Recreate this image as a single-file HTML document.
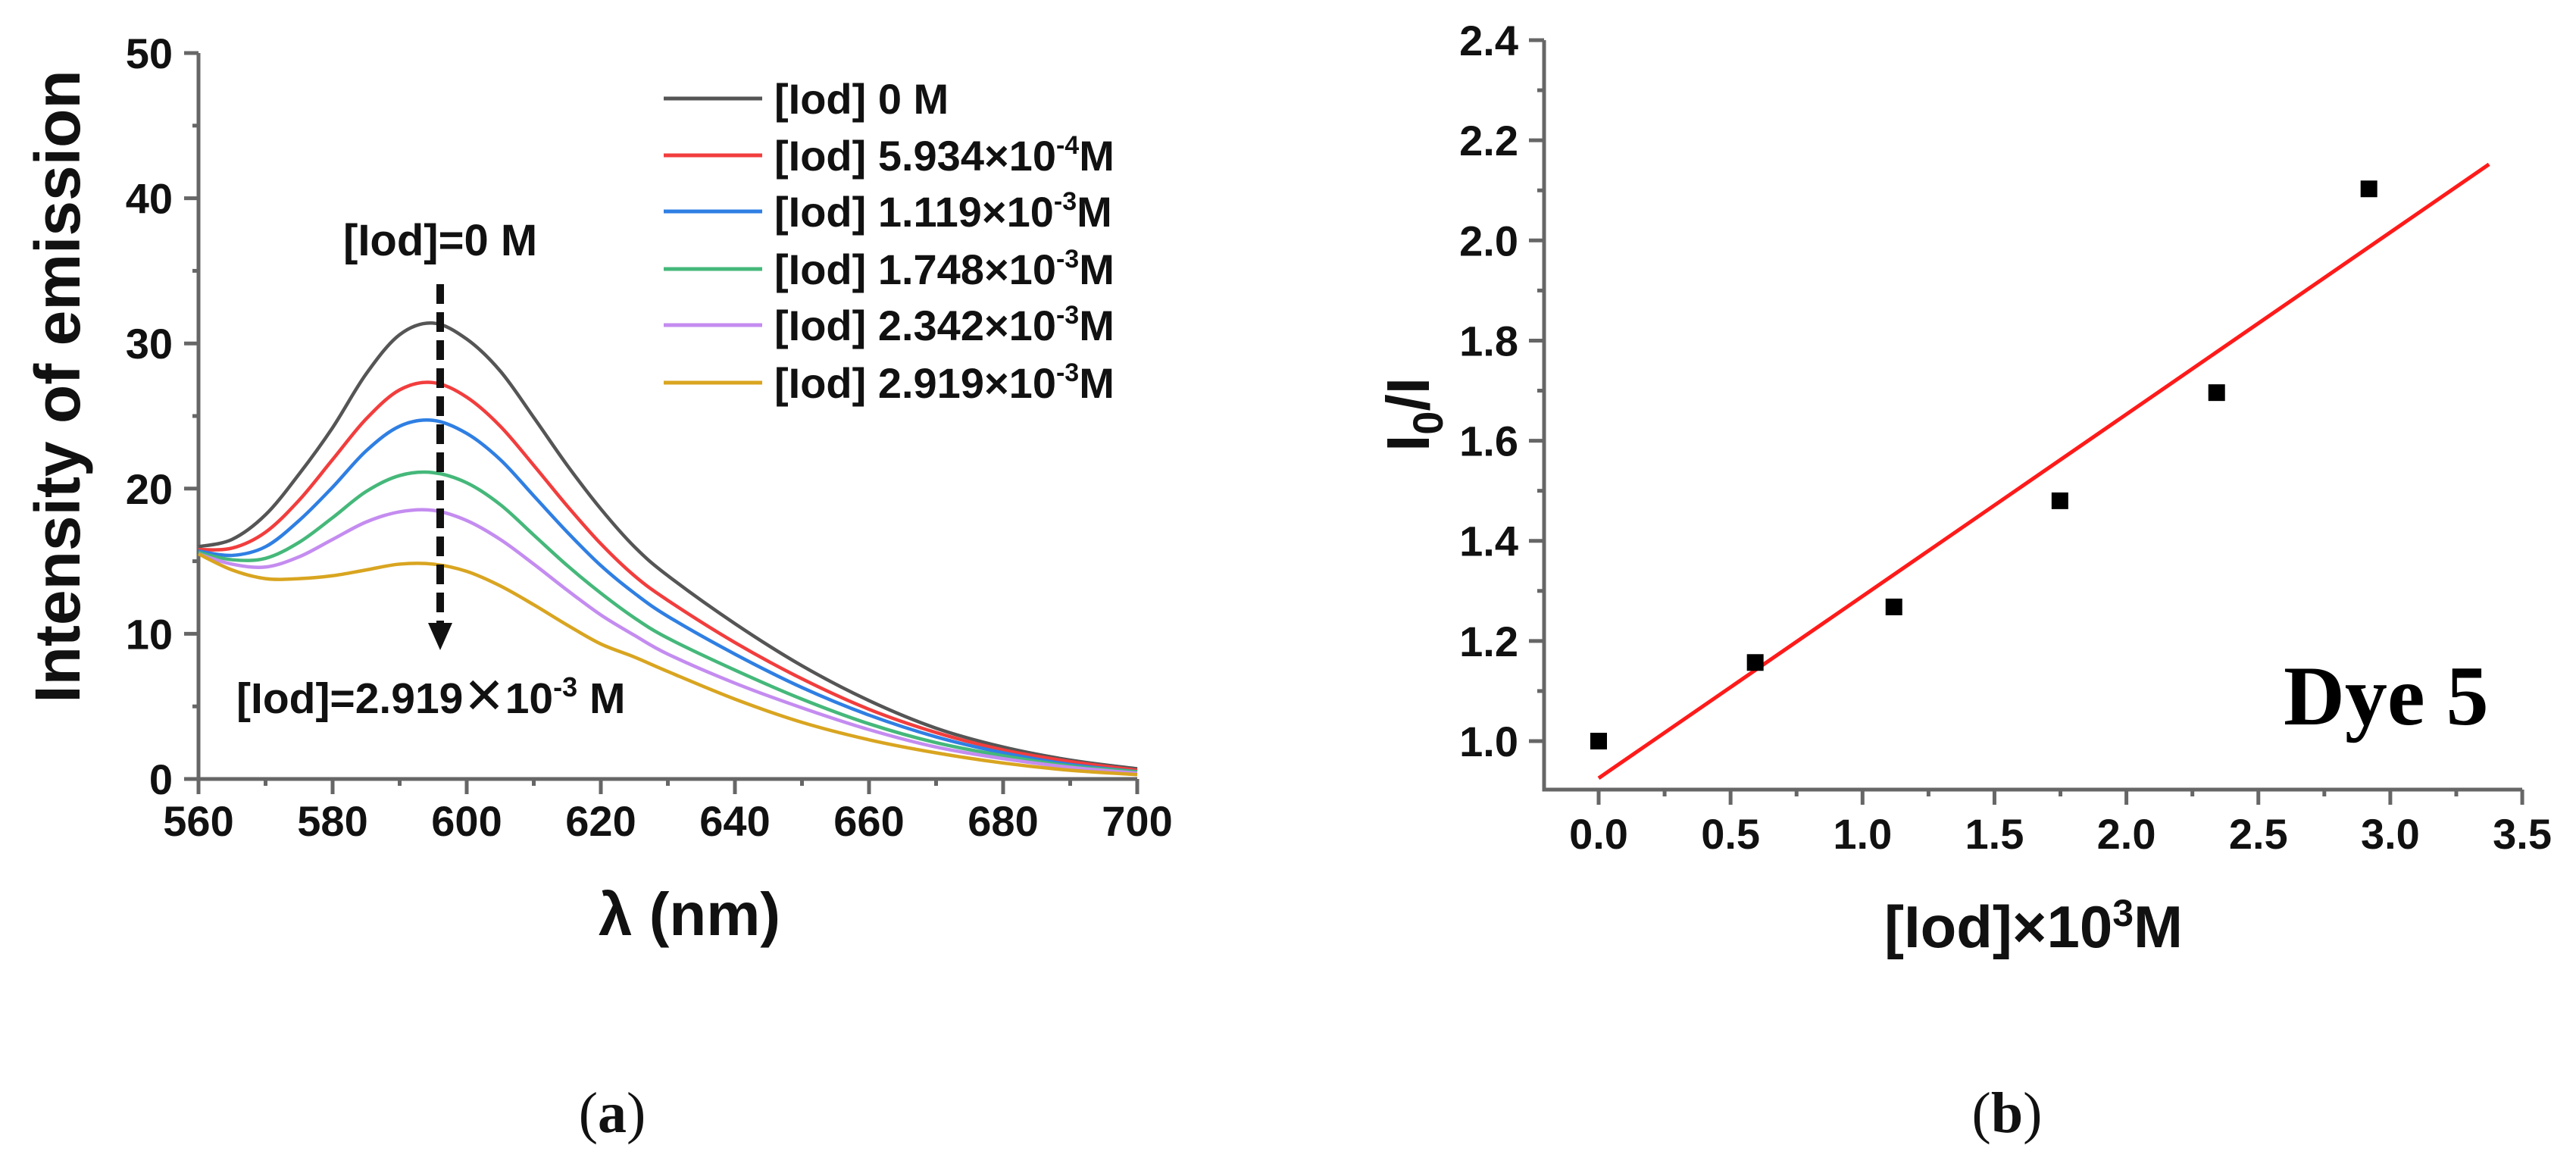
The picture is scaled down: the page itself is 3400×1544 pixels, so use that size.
<!DOCTYPE html>
<html><head><meta charset="utf-8"><style>
html,body{margin:0;padding:0;background:#fff;}
svg{display:block;}
text{font-family:"Liberation Sans",Arial,sans-serif;}
.tk{font-size:56px;font-weight:bold;fill:#111;}
.lg{font-size:56px;font-weight:bold;fill:#111;}
</style></head><body>
<svg id="fig" width="3400" height="1544" viewBox="0 0 3400 1544" xmlns="http://www.w3.org/2000/svg">
<g id="panelA"></g>
<g id="panelB"></g>
<text x="0" y="0" transform="translate(105,510) rotate(-90)" text-anchor="middle" style="font-size:84px;font-weight:bold;fill:#111">Intensity of emission</text>
<text x="910" y="1234" text-anchor="middle" style="font-size:80px;font-weight:bold;fill:#111">λ (nm)</text>
<text x="453" y="337" style="font-size:58px;font-weight:bold;fill:#111">[Iod]=0 M</text>
<text x="312" y="941" style="font-size:57px;font-weight:bold;fill:#111">[Iod]=2.919<tspan style="font-weight:normal;font-size:66px">✕</tspan>10<tspan dy="-22" style="font-size:36px">-3</tspan><tspan dy="22"> M</tspan></text>
<text x="808" y="1494" text-anchor="middle" style="font-family:'Liberation Serif',serif;font-size:76px;fill:#111">(<tspan font-weight="bold">a</tspan>)</text>
<text x="0" y="0" transform="translate(1886,547) rotate(-90)" text-anchor="middle" style="font-size:80px;font-weight:bold;fill:#111">I<tspan dy="18" style="font-size:56px">0</tspan><tspan dy="-18">/I</tspan></text>
<text x="2684" y="1250" text-anchor="middle" style="font-size:78px;font-weight:bold;fill:#111">[Iod]×10<tspan dy="-28" style="font-size:50px">3</tspan><tspan dy="28">M</tspan></text>
<text x="3014" y="956" style="font-family:'Liberation Serif',serif;font-size:112px;font-weight:bold;fill:#000">Dye 5</text>
<text x="2649" y="1494" text-anchor="middle" style="font-family:'Liberation Serif',serif;font-size:76px;fill:#111">(<tspan font-weight="bold">b</tspan>)</text>
</svg>
<script>
// ---------- Panel A data ----------
const wavelengths = [560,565,570,575,580,585,590,595,600,605,610,615,620,625,630,640,650,660,670,680,690,700];
const seriesBlack  = [16.0,16.5,18.2,21.0,24.2,27.9,30.6,31.4,30.3,28.1,24.9,21.6,18.6,16.0,14.0,10.7,7.8,5.4,3.5,2.2,1.3,0.7];
const seriesRed    = [15.8,15.9,17.0,19.2,22.0,24.8,26.8,27.3,26.3,24.3,21.6,18.8,16.2,14.0,12.3,9.4,6.9,4.8,3.2,2.0,1.2,0.6];
const seriesBlue   = [15.7,15.4,16.0,17.8,20.1,22.6,24.3,24.7,23.8,22.0,19.5,17.0,14.7,12.8,11.2,8.6,6.3,4.4,2.9,1.8,1.0,0.5];
const seriesGreen  = [15.6,15.1,15.2,16.3,18.0,19.8,20.9,21.1,20.4,18.9,16.8,14.7,12.8,11.1,9.7,7.5,5.5,3.8,2.5,1.6,0.9,0.5];
const seriesPurple = [15.5,14.8,14.6,15.3,16.5,17.7,18.4,18.5,17.8,16.5,14.8,13.0,11.3,9.9,8.6,6.6,4.9,3.4,2.2,1.4,0.8,0.4];
const seriesOrange = [15.5,14.4,13.8,13.8,14.0,14.4,14.8,14.8,14.3,13.3,12.0,10.6,9.3,8.4,7.4,5.5,3.9,2.7,1.8,1.1,0.6,0.3];
const legendLabels = ["0 M","5.934×10|-4","1.119×10|-3","1.748×10|-3","2.342×10|-3","2.919×10|-3"];
const xTicksA = [560,580,600,620,640,660,680,700];
const yTicksA = [0,10,20,30,40,50];
// ---------- Panel B data ----------
const concB = [0, 0.5934, 1.119, 1.748, 2.342, 2.919];
const ratioB = [1.0, 1.157, 1.268, 1.48, 1.696, 2.103];
const fitSlope = 0.3634;
const fitIntercept = 0.926;
const fitRange = [0, 3.374];
const xTicksB = [0,0.5,1.0,1.5,2.0,2.5,3.0,3.5];
const yTicksB = [1.0,1.2,1.4,1.6,1.8,2.0,2.2,2.4];

const NS = "http://www.w3.org/2000/svg";
function mk(parent, tag, attrs){const e=document.createElementNS(NS,tag);for(const k in attrs)e.setAttribute(k,attrs[k]);parent.appendChild(e);return e;}

const A = document.getElementById('panelA');
const ax = v => 262 + (v-560)/140*(1501-262);
const ay = v => 1028 - v/50*(1028-70);
const axisCol = "#666";
let el;
el = mk(A,'path',{d:`M${ax(560)} ${ay(50)} L${ax(560)} ${ay(0)} L${ax(700)} ${ay(0)}`,fill:'none',stroke:axisCol,'stroke-width':5});


for(let v=560; v<=700; v+=10){
  const major = (v-560)%20===0;
  el = mk(A,'line',{x1:ax(v),x2:ax(v),y1:ay(0),y2:ay(0)+(major?20:9),stroke:axisCol,'stroke-width':5});
  
  
}
for(let v=0; v<=50; v+=5){
  const major = v%10===0;
  el = mk(A,'line',{x1:ax(560),x2:ax(560)-(major?19:8),y1:ay(v),y2:ay(v),stroke:axisCol,'stroke-width':5});
  
  
}
xTicksA.forEach(v=>{
  el = mk(A,'text',{x:ax(v),y:1103,'text-anchor':'middle',class:'tk'}); el.textContent=v;
  
  
});
yTicksA.forEach(v=>{
  el = mk(A,'text',{x:228,y:ay(v)+20,'text-anchor':'end',class:'tk'}); el.textContent=v;
  
  
});
function smoothPath(xs, ys){
  const p = xs.map((x,i)=>[ax(x),ay(ys[i])]);
  let d = `M${p[0][0]} ${p[0][1]}`;
  for(let i=0;i<p.length-1;i++){
    const p0=p[Math.max(i-1,0)], p1=p[i], p2=p[i+1], p3=p[Math.min(i+2,p.length-1)];
    const c1=[p1[0]+(p2[0]-p0[0])/6, p1[1]+(p2[1]-p0[1])/6];
    const c2=[p2[0]-(p3[0]-p1[0])/6, p2[1]-(p3[1]-p1[1])/6];
    d += ` C${c1[0]} ${c1[1]} ${c2[0]} ${c2[1]} ${p2[0]} ${p2[1]}`;
  }
  return d;
}
const allSeries = [seriesBlack,seriesRed,seriesBlue,seriesGreen,seriesPurple,seriesOrange];
const colors = ["#555555","#f23d3d","#2f7fe3","#45b87a","#c48cf0","#d9a520"];
const names = ["black","red","blue","green","purple","orange"];
allSeries.forEach((s,i)=>{
  el = mk(A,'path',{d:smoothPath(wavelengths,s),fill:'none',stroke:colors[i],'stroke-width':4.5});
  
  
});
const legendY=[130,205,279,355,429,505];
legendLabels.forEach((lab,i)=>{
  el = mk(A,'line',{x1:876,x2:1006,y1:legendY[i],y2:legendY[i],stroke:colors[i],'stroke-width':5});
  
  
  const t = mk(A,'text',{x:1022,y:legendY[i]+20,class:'lg'});
  
  
  const parts = lab.split('|');
  const t1 = mk(t,'tspan',{}); t1.textContent='[Iod] '+parts[0];
  if(parts[1]){
    const t2 = mk(t,'tspan',{dy:-22,style:'font-size:34px'}); t2.textContent=parts[1];
    const t3 = mk(t,'tspan',{dy:22}); t3.textContent='M';
  }
});
el = mk(A,'line',{x1:581,x2:581,y1:375,y2:830,stroke:'#111','stroke-width':10,'stroke-dasharray':'26 11'});


el = mk(A,'path',{d:'M565 822 L597 822 L581 858 Z',fill:'#111'});



const B = document.getElementById('panelB');
const bx = v => 2110 + v*348.3;
const by = v => 978 - (v-1.0)*660.7;
el = mk(B,'path',{d:`M2038 ${by(2.4)} L2038 1042 L${bx(3.5)} 1042`,fill:'none',stroke:axisCol,'stroke-width':5});


for(let k=0;k<=14;k++){
  const v=k*0.25, major=k%2===0;
  el = mk(B,'line',{x1:bx(v),x2:bx(v),y1:1042,y2:1042+(major?20:9),stroke:axisCol,'stroke-width':5});
  
  
}
for(let k=0;k<=14;k++){
  const v=1.0+k*0.1, major=k%2===0;
  el = mk(B,'line',{x1:2038,x2:2038-(major?20:9),y1:by(v),y2:by(v),stroke:axisCol,'stroke-width':5});
  
  
}
xTicksB.forEach(v=>{
  el = mk(B,'text',{x:bx(v),y:1120,'text-anchor':'middle',class:'tk'}); el.textContent=v.toFixed(1);
  
  
});
yTicksB.forEach(v=>{
  el = mk(B,'text',{x:2004,y:by(v)+20,'text-anchor':'end',class:'tk'}); el.textContent=v.toFixed(1);
  
  
});
el = mk(B,'line',{x1:bx(fitRange[0]),y1:by(fitIntercept+fitSlope*fitRange[0]),x2:bx(fitRange[1]),y2:by(fitIntercept+fitSlope*fitRange[1]),stroke:'#ff1a1a','stroke-width':5});


concB.forEach((c,i)=>{
  el = mk(B,'rect',{x:bx(c)-11,y:by(ratioB[i])-11,width:22,height:22,fill:'#000'});
  
  
});
</script>
</body></html>
